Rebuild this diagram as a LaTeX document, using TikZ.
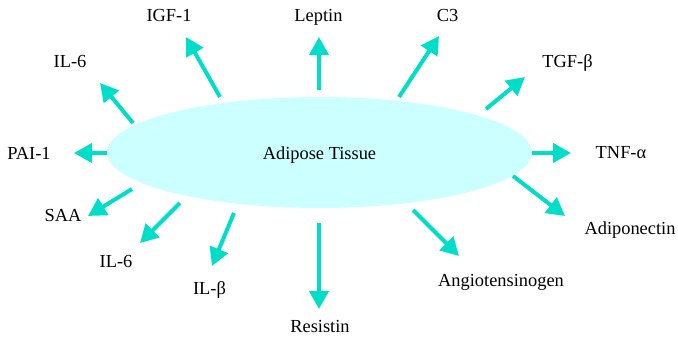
\documentclass[tikz,border=0pt]{standalone}
\usepackage{fontspec}
\setmainfont{Liberation Serif}
\usetikzlibrary{arrows.meta, shapes.geometric}
\definecolor{turq}{HTML}{00DDC8}
\definecolor{fat}{HTML}{CCFFFF}

\begin{document}
\begin{tikzpicture}[
    x=1pt, y=-1pt,
    font=\fontsize{18.4}{20}\selectfont,
    tissue/.style={
      ellipse,
      fill=fat,
      minimum width=425pt,
      minimum height=111pt,
      inner sep=0pt,
      text height=13pt,
      text depth=0pt,
    },
    factor/.style={
      anchor=base,
      inner sep=0pt,
    },
    secrete/.style={
      draw=turq,
      line width=4pt,
      -{Triangle[length=18pt,width=19pt]},
    },
  ]

  \useasboundingbox (0,0) rectangle (678,338);

  % Centre
  \node[tissue] (tissue) at (319.5,152.5) {Adipose Tissue};

  % Secreted factors
  \node[factor] (leptin) at (318.5,21) {Leptin};
  \node[factor] (igf) at (169,21) {IGF-1};
  \node[factor] (c3) at (447.5,21) {C3};
  \node[factor] (iltop) at (70,67) {IL-6};
  \node[factor] (tgf) at (567.5,67) {TGF-β};
  \node[factor] (pai) at (29,159) {PAI-1};
  \node[factor] (tnf) at (621,158) {TNF-α};
  \node[factor] (saa) at (63,221) {SAA};
  \node[factor] (adipo) at (630,234) {Adiponectin};
  \node[factor] (ilbot) at (116,267) {IL-6};
  \node[factor] (angio) at (501,286) {Angiotensinogen};
  \node[factor] (ilb) at (209.5,294) {IL-β};
  \node[factor] (resistin) at (320,332) {Resistin};

  % Secretion arrows
  \foreach \n/\sx/\sy/\tx/\ty in {
      leptin/319/90/319/37,
      igf/220/97/186/37,
      c3/399/97/439/36,
      iltop/133/123/100/83,
      tgf/486/109/525/77,
      pai/107/153/74/153,
      tnf/532/153/571/153,
      saa/132/189/88/216,
      adipo/513/176/565/216,
      ilbot/180/203/140/243,
      angio/413/210/459/256,
      ilb/234/213/212/266,
      resistin/319/223/319/309} {
    \coordinate (\n-from) at (\sx,\sy);
    \coordinate (\n-to) at (\tx,\ty);
    \draw[secrete] (\n-from) -- (\n-to);
  }

\end{tikzpicture}
\end{document}
